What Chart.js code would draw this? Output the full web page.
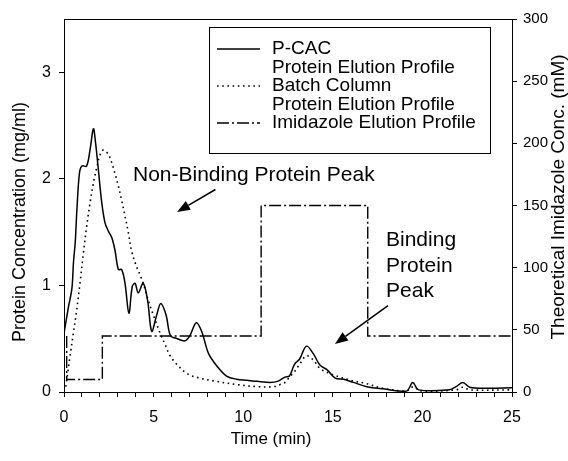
<!DOCTYPE html>
<html>
<head>
<meta charset="utf-8">
<script src="https://cdn.jsdelivr.net/npm/chart.js@4.4.1/dist/chart.umd.min.js"></script>
<style>
  html, body { margin: 0; padding: 0; background: #fff; }
  #chart { display: block; }
</style>
</head>
<body>
<canvas id="chart" width="568" height="461"></canvas>
<script>
// P-CAC protein elution profile (mg/ml)
const pcacTime = [0, 0.25, 0.44, 0.53, 0.625, 0.72, 0.86, 1.0, 1.26, 1.45, 1.64, 1.76, 1.915, 2.105, 2.285, 2.475,
  2.665, 2.845, 3.035, 3.215, 3.405, 3.62, 3.81, 3.965, 4.145, 4.42, 4.665, 4.895, 5.17, 5.4, 5.7, 5.94, 6.32, 6.75,
  7.03, 7.38, 7.68, 8.07, 8.55, 9.07, 9.64, 10.21, 10.78, 11.5, 11.915, 12.33, 12.58, 12.86, 13.15, 13.53, 13.91,
  14.29, 14.67, 15.14, 15.61, 16.15, 16.9, 17.8, 19.12, 19.46, 19.79, 21.5, 21.88, 22.26, 22.64, 23.58, 25];
const pcacConc = [0.55, 0.80, 0.97, 1.22, 1.40, 1.71, 2.05, 2.12, 2.12, 2.27, 2.47, 2.34, 2.09, 1.78, 1.59, 1.51,
  1.45, 1.33, 1.15, 1.15, 1.02, 0.74, 0.99, 1.02, 0.93, 1.02, 0.86, 0.57, 0.72, 0.83, 0.72, 0.53, 0.50, 0.48,
  0.53, 0.65, 0.57, 0.36, 0.24, 0.15, 0.12, 0.11, 0.10, 0.09, 0.10, 0.14, 0.15, 0.26, 0.31, 0.43, 0.36,
  0.25, 0.21, 0.13, 0.12, 0.09, 0.05, 0.03, 0.01, 0.09, 0.02, 0.02, 0.05, 0.09, 0.045, 0.035, 0.04];

// Batch column protein elution profile (mg/ml)
const batchTime = [0.1, 0.21, 0.33, 0.52, 0.71, 0.89, 1.08, 1.26, 1.45, 1.64, 1.82, 2.0, 2.19, 2.475, 2.665, 2.845,
  3.035, 3.215, 3.405, 3.585, 3.775, 4.04, 4.24, 4.42, 4.705, 4.99, 5.37, 5.63, 5.92, 6.29, 6.89, 7.59, 8.5, 9.64,
  10.78, 11.68, 12.06, 12.34, 12.58, 12.86, 13.15, 13.53, 13.91, 14.29, 15.045, 15.99, 16.85, 17.8, 19.12, 19.5,
  19.88, 21.88, 22.26, 22.64, 25];
const batchConc = [0.05, 0.18, 0.33, 0.55, 0.77, 1.02, 1.30, 1.55, 1.77, 1.96, 2.10, 2.22, 2.27, 2.23, 2.15, 2.05,
  1.93, 1.80, 1.65, 1.50, 1.32, 1.18, 1.10, 1.02, 0.86, 0.72, 0.55, 0.45, 0.34, 0.26, 0.17, 0.13, 0.10, 0.07,
  0.05, 0.05, 0.07, 0.09, 0.14, 0.19, 0.26, 0.34, 0.30, 0.22, 0.16, 0.11, 0.08, 0.035, 0.01, 0.05, 0.01, 0.02,
  0.045, 0.02, 0.02];

// Theoretical imidazole step profile (mM)
const imidTime = [0.15, 0.15, 2.14, 2.14, 11.0, 11.0, 16.95, 16.95, 25];
const imidConc = [45, 10, 10, 45, 45, 150, 150, 45, 45];

const legendLabels = [['P-CAC', 'Protein Elution Profile'], ['Batch Column', 'Protein Elution Profile'], ['Imidazole Elution Profile']];

const FONT = "'Liberation Sans', Arial, sans-serif";
const DOTTED = [1.6, 3.6];
const DASHDOT = [12, 3, 2, 3];

const toPoints = (xs, ys) => xs.map((x, i) => ({ x: x, y: ys[i] }));

// legend, annotations, frame and axis titles
const extras = {
  id: 'extras',
  afterDraw(chart) {
    const ctx = chart.ctx;
    const area = chart.chartArea;
    const sx = chart.scales.x, sy = chart.scales.y;
    ctx.save();

    // top frame line
    ctx.strokeStyle = '#000';
    ctx.lineWidth = 1;
    ctx.beginPath();
    ctx.moveTo(area.left, area.top + 0.5);
    ctx.lineTo(area.right, area.top + 0.5);
    ctx.stroke();

    // legend box
    ctx.fillStyle = '#fff';
    ctx.fillRect(209, 27, 281, 126);
    ctx.strokeRect(209.5, 27.5, 281, 126);

    ctx.font = '19px ' + FONT;
    ctx.fillStyle = '#000';
    ctx.textBaseline = 'middle';
    const dashes = [[], DOTTED, DASHDOT];
    let row = 49;
    legendLabels.forEach((lines, i) => {
      ctx.setLineDash(dashes[i]);
      ctx.lineWidth = 1.4;
      ctx.beginPath();
      ctx.moveTo(217, row);
      ctx.lineTo(260, row);
      ctx.stroke();
      ctx.setLineDash([]);
      lines.forEach((t, j) => ctx.fillText(t, 272, row + j * 18.5));
      row += lines.length * 18.5;
    });

    // annotations
    ctx.font = '21px ' + FONT;
    ctx.fillText('Non-Binding Protein Peak', sx.getPixelForValue(3.85), sy.getPixelForValue(2.03));
    ['Binding', 'Protein', 'Peak'].forEach((t, i) => {
      ctx.fillText(t, sx.getPixelForValue(17.97), sy.getPixelForValue(1.42) + i * 25.5);
    });

    const arrow = (t0, c0, t1, c1) => {
      const x0 = sx.getPixelForValue(t0), y0 = sy.getPixelForValue(c0);
      const x1 = sx.getPixelForValue(t1), y1 = sy.getPixelForValue(c1);
      const ang = Math.atan2(y1 - y0, x1 - x0);
      const len = 13, half = 5;
      const bx = x1 - len * Math.cos(ang), by = y1 - len * Math.sin(ang);
      ctx.lineWidth = 1.5;
      ctx.beginPath();
      ctx.moveTo(x0, y0);
      ctx.lineTo(bx, by);
      ctx.stroke();
      ctx.beginPath();
      ctx.moveTo(x1, y1);
      ctx.lineTo(bx + half * Math.sin(ang), by - half * Math.cos(ang));
      ctx.lineTo(bx - half * Math.sin(ang), by + half * Math.cos(ang));
      ctx.closePath();
      ctx.fill();
    };
    arrow(8.45, 1.90, 6.31, 1.69);
    arrow(18.08, 0.81, 15.12, 0.45);

    // axis titles
    ctx.textAlign = 'center';
    ctx.font = '17px ' + FONT;
    ctx.fillText('Time (min)', 271, 439);

    ctx.font = '18px ' + FONT;
    ctx.save();
    ctx.translate(20, 222);
    ctx.rotate(-Math.PI / 2);
    ctx.fillText('Protein Concentration (mg/ml)', 0, 0);
    ctx.restore();

    ctx.font = '19px ' + FONT;
    ctx.translate(559, 197);
    ctx.rotate(-Math.PI / 2);
    ctx.fillText('Theoretical Imidazole Conc. (mM)', 0, 0);
    ctx.restore();
  }
};

const tickFont = { family: FONT, size: 16 };

new Chart(document.getElementById('chart'), {
  type: 'line',
  data: {
    datasets: [
      {
        label: 'P-CAC Protein Elution Profile',
        data: toPoints(pcacTime, pcacConc),
        yAxisID: 'y',
        borderColor: '#000',
        borderWidth: 1.5,
        pointRadius: 0,
        tension: 0.35
      },
      {
        label: 'Batch Column Protein Elution Profile',
        data: toPoints(batchTime, batchConc),
        yAxisID: 'y',
        borderColor: '#000',
        borderWidth: 1.6,
        borderDash: DOTTED,
        pointRadius: 0,
        tension: 0.35
      },
      {
        label: 'Imidazole Elution Profile',
        data: toPoints(imidTime, imidConc),
        yAxisID: 'y2',
        borderColor: '#000',
        borderWidth: 1.4,
        borderDash: DASHDOT,
        pointRadius: 0,
        tension: 0
      }
    ]
  },
  options: {
    responsive: false,
    animation: false,
    layout: { padding: { top: 19 } },
    plugins: { legend: { display: false }, tooltip: { enabled: false } },
    scales: {
      x: {
        type: 'linear',
        min: 0,
        max: 25,
        afterFit: s => { s.height = 69; },
        border: { color: '#000', width: 1 },
        grid: { drawOnChartArea: false, tickLength: 5, color: '#000' },
        ticks: {
          stepSize: 1,
          autoSkip: false,
          maxRotation: 0,
          padding: 11,
          color: '#000',
          font: tickFont,
          callback: v => (v % 5 === 0 ? v : '')
        }
      },
      y: {
        position: 'left',
        min: 0,
        max: 3.5,
        afterFit: s => { s.width = 64; },
        border: { color: '#000', width: 1 },
        grid: { drawOnChartArea: false, tickLength: 5, color: '#000' },
        ticks: { stepSize: 1, includeBounds: false, padding: 8, color: '#000', font: tickFont }
      },
      y2: {
        position: 'right',
        min: 0,
        max: 300,
        afterFit: s => { s.width = 56; },
        border: { color: '#000', width: 1 },
        grid: { drawOnChartArea: false, tickLength: 5, color: '#000' },
        ticks: { stepSize: 50, padding: 6, color: '#000', font: { family: FONT, size: 15 } }
      }
    }
  },
  plugins: [extras]
});
</script>
</body>
</html>
